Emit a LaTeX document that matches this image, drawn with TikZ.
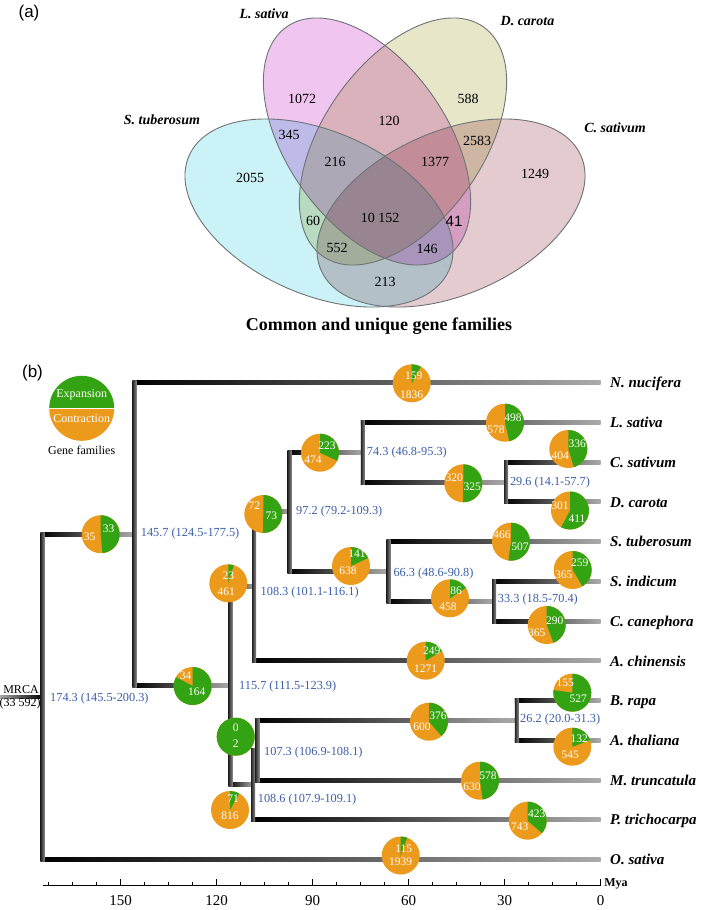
\documentclass[tikz,border=0pt]{standalone}
\usepackage{fontspec}
\setmainfont{Liberation Serif}
\setsansfont{Liberation Sans}
\usetikzlibrary{calc}
\definecolor{grn}{RGB}{52,163,19}
\definecolor{orng}{RGB}{236,154,28}
\definecolor{lblue}{RGB}{60,95,170}
\definecolor{vcyan}{RGB}{202,242,247}
\definecolor{vpink}{RGB}{240,198,240}
\definecolor{vyel}{RGB}{232,230,200}
\definecolor{vcsat}{RGB}{227,203,207}
\definecolor{vline}{RGB}{110,115,118}
\newcommand{\myfs}[1]{\fontsize{#1}{#1}\selectfont}
\newcommand{\mypie}[4]{%
  \coordinate (#1) at (#2,#3);
  \begin{scope}[shift={(#1)}, x=1pt, y=1pt]
    \fill[orng] (0,0) circle[radius=19];
    \fill[grn] (0,0) -- (90:19) arc[start angle=90, delta angle=-#4, radius=19] -- cycle;
  \end{scope}}
\newcommand{\hedge}[2]{\shade[hbr] ($(#1 |- #2)+(-2,-2)$) rectangle ($(#2)+(0,2)$);}
\newcommand{\vedge}[3]{\shade[vbr] ($(#1 |- #2)+(-2,-2)$) rectangle ($(#1 |- #3)+(2,2)$);}
\begin{document}
\begin{tikzpicture}[x=1pt, y=-1pt,
  hbr/.style={left color=black, right color=black!33},
  vbr/.style={left color=black!85, right color=black!45},
  vn/.style={font=\myfs{14}},
  vsp/.style={font=\bfseries\itshape\myfs{14}},
  pn/.style={font=\myfs{11.5}, text=white, inner sep=0pt},
  bl/.style={font=\myfs{12.3}, text=lblue, anchor=west, inner sep=0pt},
  sp/.style={font=\bfseries\itshape\myfs{15}, anchor=base west, inner sep=0pt},
  ax/.style={line width=0.9pt}]
\useasboundingbox (0,0) rectangle (709,910);
\fill[white] (0,0) rectangle (709,910);

% ---------------- (a) Venn diagram ----------------
\node[font=\sffamily\myfs{17}] (labA) at (29,13) {(a)};
\begin{scope}
  \fill[vcyan, blend mode=multiply, rotate around={-23.8:(319,213)}] (319,213) ellipse[x radius=142pt, y radius=81.5pt];
  \fill[vpink, blend mode=multiply, rotate around={-55:(367,141.5)}] (367,141.5) ellipse[x radius=140pt, y radius=80pt];
  \fill[vyel, blend mode=multiply, rotate around={55:(403,141.5)}] (403,141.5) ellipse[x radius=140pt, y radius=80pt];
  \fill[vcsat, blend mode=multiply, rotate around={23.8:(451,213)}] (451,213) ellipse[x radius=142pt, y radius=81.5pt];
\end{scope}
\draw[vline, line width=0.9pt, rotate around={-23.8:(319,213)}] (319,213) ellipse[x radius=142pt, y radius=81.5pt];
\draw[vline, line width=0.9pt, rotate around={-55:(367,141.5)}] (367,141.5) ellipse[x radius=140pt, y radius=80pt];
\draw[vline, line width=0.9pt, rotate around={55:(403,141.5)}] (403,141.5) ellipse[x radius=140pt, y radius=80pt];
\draw[vline, line width=0.9pt, rotate around={23.8:(451,213)}] (451,213) ellipse[x radius=142pt, y radius=81.5pt];

\node[vsp] (vLsat) at (264,14) {L. sativa};
\node[vsp] (vDcar) at (527.5,20.7) {D. carota};
\node[vsp] (vStub) at (162,120) {S. tuberosum};
\node[vsp] (vCsat) at (615,128) {C. sativum};

\node[vn] (v1072) at (302,99) {1072};
\node[vn] (v588) at (468,99) {588};
\node[vn] (v120) at (389,121) {120};
\node[vn] (v345) at (289,135) {345};
\node[vn] (v2583) at (477,141) {2583};
\node[vn] (v216) at (335,162) {216};
\node[vn] (v1377) at (435,162) {1377};
\node[vn] (v2055) at (250,178) {2055};
\node[vn] (v1249) at (535,174) {1249};
\node[vn] (v60) at (313,221) {60};
\node[vn] (v10152) at (380,218) {10 152};
\node[font=\sffamily\myfs{15}] (v41) at (454,221) {41};
\node[vn] (v552) at (337,248) {552};
\node[vn] (v146) at (427,249) {146};
\node[vn] (v213) at (385,282) {213};
\node[font=\bfseries\myfs{18}, anchor=base] (cap) at (379,330.7) {Common and unique gene families};

% ---------------- (b) tree ----------------
\node[font=\sffamily\myfs{17}] (labB) at (32.5,373.3) {(b)};

% legend
\coordinate (leg) at (81.7,408.3);
\begin{scope}[shift={(leg)}, x=1pt, y=1pt]
  \fill[grn] (0,0) -- (32.5,0) arc[start angle=0, end angle=180, radius=32.5] -- cycle;
  \fill[orng] (0,0) -- (-32.5,0) arc[start angle=180, end angle=360, radius=32.5] -- cycle;
  \draw[white, line width=0.8pt] (-32.5,0) -- (32.5,0);
\end{scope}
\node[font=\myfs{12}, text=white] (legE) at (81.7,395) {Expansion};
\node[font=\myfs{12}, text=white] (legC) at (81.7,419) {Contraction};
\node[font=\myfs{12}] (legG) at (81.7,450) {Gene families};

% node coordinates
\coordinate (nR) at (42.7,696.8);
\coordinate (n145) at (134.5,534.2);
\coordinate (n115) at (230.5,685.6);
\coordinate (n1083) at (254.1,586.3);
\coordinate (n97) at (289.7,511.8);
\coordinate (n74) at (362.9,452.2);
\coordinate (n29) at (506,482.05);
\coordinate (n66) at (388.5,571.4);
\coordinate (n33) at (494.1,601.25);
\coordinate (n1086) at (253.2,784.95);
\coordinate (n107) at (257.3,750.2);
\coordinate (n26) at (516.9,720.4);
\coordinate (tNnuc) at (600.7,382.7);
\coordinate (tLsat) at (600.7,422.4);
\coordinate (tCsat) at (600.7,462.2);
\coordinate (tDcar) at (600.7,501.9);
\coordinate (tStub) at (600.7,541.6);
\coordinate (tSind) at (600.7,581.4);
\coordinate (tCcan) at (600.7,621.1);
\coordinate (tAchi) at (600.7,660.8);
\coordinate (tBrap) at (600.7,700.5);
\coordinate (tAtha) at (600.7,740.3);
\coordinate (tMtru) at (600.7,780.0);
\coordinate (tPtri) at (600.7,819.7);
\coordinate (tOsat) at (600.7,859.5);
\coordinate (mrca) at (0,696.8);

% horizontal branches
\shade[left color=black!35, right color=black] ($(mrca)+(0,-1.5)$) rectangle ($(nR)+(0,1.5)$);
\hedge{nR}{n145} \hedge{nR}{tOsat}
\hedge{n145}{tNnuc} \hedge{n145}{n115}
\hedge{n115}{n1083} \hedge{n115}{n1086}
\hedge{n1083}{n97} \hedge{n1083}{tAchi}
\hedge{n97}{n74} \hedge{n97}{n66}
\hedge{n74}{tLsat} \hedge{n74}{n29}
\hedge{n29}{tCsat} \hedge{n29}{tDcar}
\hedge{n66}{tStub} \hedge{n66}{n33}
\hedge{n33}{tSind} \hedge{n33}{tCcan}
\hedge{n1086}{n107} \hedge{n1086}{tPtri}
\hedge{n107}{n26} \hedge{n107}{tMtru}
\hedge{n26}{tBrap} \hedge{n26}{tAtha}
% vertical branches
\vedge{nR}{n145}{tOsat}
\vedge{n145}{tNnuc}{n115}
\vedge{n115}{n1083}{n1086}
\vedge{n1083}{n97}{tAchi}
\vedge{n97}{n74}{n66}
\vedge{n74}{tLsat}{n29}
\vedge{n29}{tCsat}{tDcar}
\vedge{n66}{tStub}{n33}
\vedge{n33}{tSind}{tCcan}
\vedge{n1086}{n107}{tPtri}
\vedge{n107}{n26}{tMtru}
\vedge{n26}{tBrap}{tAtha}

% pies
\mypie{pA}{100.7}{534.2}{175}
\node[pn] (pA1) at ($(pA)+(-11,3)$) {35};
\node[pn] (pA2) at ($(pA)+(8,-5)$) {33};
\mypie{pB}{411.7}{383.3}{29}
\node[pn] (pB1) at ($(pB)+(2,-8)$) {159};
\node[pn] (pB2) at ($(pB)+(0,11)$) {1836};
\mypie{pC}{320}{452.7}{115}
\node[pn] (pC1) at ($(pC)+(7,-7)$) {223};
\node[pn] (pC2) at ($(pC)+(-7,7)$) {474};
\mypie{pD}{263.3}{514}{181}
\node[pn] (pD1) at ($(pD)+(-9,-8)$) {72};
\node[pn] (pD2) at ($(pD)+(8,2)$) {73};
\mypie{pE}{351}{566}{65}
\node[pn] (pE1) at ($(pE)+(6,-12)$) {141};
\node[pn] (pE2) at ($(pE)+(-3,5)$) {638};
\mypie{pF}{228.3}{583.3}{17}
\node[pn] (pF1) at ($(pF)+(0,-8)$) {23};
\node[pn] (pF2) at ($(pF)+(-2,8)$) {461};
\mypie{pG}{192.7}{686}{298}
\node[pn] (pG1) at ($(pG)+(-7,-10)$) {34};
\node[pn] (pG2) at ($(pG)+(4,6)$) {164};
\mypie{pH}{235.7}{736.7}{360}
\node[pn] (pH1) at ($(pH)+(0,-9)$) {0};
\node[pn] (pH2) at ($(pH)+(0,7)$) {2};
\mypie{pI}{230}{810}{29}
\node[pn] (pI1) at ($(pI)+(3,-11)$) {71};
\node[pn] (pI2) at ($(pI)+(0,6)$) {816};
\mypie{pJ}{505}{422.7}{167}
\node[pn] (pJ1) at ($(pJ)+(8,-5)$) {498};
\node[pn] (pJ2) at ($(pJ)+(-9,7)$) {578};
\mypie{pK}{463.3}{483.3}{181}
\node[pn] (pK1) at ($(pK)+(-9,-6)$) {320};
\node[pn] (pK2) at ($(pK)+(9,3)$) {325};
\mypie{pL}{568.3}{449}{163}
\node[pn] (pL1) at ($(pL)+(9,-5)$) {336};
\node[pn] (pL2) at ($(pL)+(-8,7)$) {404};
\mypie{pM}{570}{510.5}{208}
\node[pn] (pM1) at ($(pM)+(-10,-5)$) {301};
\node[pn] (pM2) at ($(pM)+(7,8)$) {411};
\mypie{pN}{511}{541.7}{188}
\node[pn] (pN1) at ($(pN)+(-9,-7)$) {466};
\node[pn] (pN2) at ($(pN)+(9,5)$) {507};
\mypie{pO}{450}{598.3}{57}
\node[pn] (pO1) at ($(pO)+(6,-8)$) {86};
\node[pn] (pO2) at ($(pO)+(-2,8)$) {458};
\mypie{pP}{572.7}{570}{149}
\node[pn] (pP1) at ($(pP)+(7,-7)$) {259};
\node[pn] (pP2) at ($(pP)+(-9,5)$) {365};
\mypie{pQ}{546.7}{625}{159}
\node[pn] (pQ1) at ($(pQ)+(8,-4)$) {290};
\node[pn] (pQ2) at ($(pQ)+(-10,8)$) {365};
\mypie{pR}{425.7}{660.7}{59}
\node[pn] (pR1) at ($(pR)+(6,-10)$) {249};
\node[pn] (pR2) at ($(pR)+(0,8)$) {1271};
\mypie{pS}{572.3}{692.7}{278}
\node[pn] (pS1) at ($(pS)+(-7,-10)$) {155};
\node[pn] (pS2) at ($(pS)+(6,6)$) {527};
\mypie{pT}{429}{721.7}{139}
\node[pn] (pT1) at ($(pT)+(9,-6)$) {376};
\node[pn] (pT2) at ($(pT)+(-7,5)$) {600};
\mypie{pU}{572.3}{746.7}{70}
\node[pn] (pU1) at ($(pU)+(7,-8)$) {132};
\node[pn] (pU2) at ($(pU)+(-2,8)$) {545};
\mypie{pV}{480}{780.7}{172}
\node[pn] (pV1) at ($(pV)+(8,-5)$) {578};
\node[pn] (pV2) at ($(pV)+(-8,6)$) {630};
\mypie{pW}{527.7}{820.7}{131}
\node[pn] (pW1) at ($(pW)+(9,-7)$) {423};
\node[pn] (pW2) at ($(pW)+(-8,6)$) {743};
\mypie{pX}{400.7}{855.5}{20}
\node[pn] (pX1) at ($(pX)+(3,-7)$) {115};
\node[pn] (pX2) at ($(pX)+(0,6)$) {1939};

% divergence time labels
\node[bl] (b174) at (50,699) {174.3 (145.5-200.3)};
\node[bl] (b145) at (140.7,534) {145.7 (124.5-177.5)};
\node[bl] (b115) at (239,687) {115.7 (111.5-123.9)};
\node[bl] (b1083) at (260.5,592.5) {108.3 (101.1-116.1)};
\node[bl] (b97) at (296,512) {97.2 (79.2-109.3)};
\node[bl] (b74) at (366.7,452.3) {74.3 (46.8-95.3)};
\node[bl] (b29) at (509.8,483) {29.6 (14.1-57.7)};
\node[bl] (b66) at (393.3,573.3) {66.3 (48.6-90.8)};
\node[bl] (b33) at (497.7,599.3) {33.3 (18.5-70.4)};
\node[bl] (b107) at (264,752.7) {107.3 (106.9-108.1)};
\node[bl] (b1086) at (257.7,800) {108.6 (107.9-109.1)};
\node[bl] (b26) at (520,720) {26.2 (20.0-31.3)};

% MRCA
\node[font=\myfs{12}, inner sep=0pt] (mrcaT) at (21,690) {MRCA};
\node[font=\myfs{12}, inner sep=0pt] (mrcaN) at (20,704) {(33 592)};

% species
\node[sp] (sNnuc) at ($(tNnuc)+(9.3,5.2)$) {N. nucifera};
\node[sp] (sLsat) at ($(tLsat)+(9.3,5.2)$) {L. sativa};
\node[sp] (sCsat) at ($(tCsat)+(9.3,5.2)$) {C. sativum};
\node[sp] (sDcar) at ($(tDcar)+(9.3,5.2)$) {D. carota};
\node[sp] (sStub) at ($(tStub)+(9.3,5.2)$) {S. tuberosum};
\node[sp] (sSind) at ($(tSind)+(9.3,5.2)$) {S. indicum};
\node[sp] (sCcan) at ($(tCcan)+(9.3,5.2)$) {C. canephora};
\node[sp] (sAchi) at ($(tAchi)+(9.3,5.2)$) {A. chinensis};
\node[sp] (sBrap) at ($(tBrap)+(9.3,5.2)$) {B. rapa};
\node[sp] (sAtha) at ($(tAtha)+(9.3,5.2)$) {A. thaliana};
\node[sp] (sMtru) at ($(tMtru)+(9.3,5.2)$) {M. truncatula};
\node[sp] (sPtri) at ($(tPtri)+(9.3,5.2)$) {P. trichocarpa};
\node[sp] (sOsat) at ($(tOsat)+(9.3,5.2)$) {O. sativa};

% time axis
\coordinate (axL) at (42.7,885.7);
\coordinate (axR) at (600.7,885.7);
\draw[ax] (axL) -- (axR);
\foreach \tm in {0,7.5,...,172.5}
  \draw[ax] ($(axR)+({-3.2*\tm},0)$) -- ++(0,-3.5);
\foreach \tm in {0,30,...,150} {
  \draw[ax] ($(axR)+({-3.2*\tm},0)$) -- ++(0,-7);
  \node[font=\myfs{15}] (tk\tm) at ($(axR)+({-3.2*\tm},14.5)$) {\tm};
}
\node[font=\bfseries\myfs{12}] (mya) at (616,883.5) {Mya};
\end{tikzpicture}
\end{document}
